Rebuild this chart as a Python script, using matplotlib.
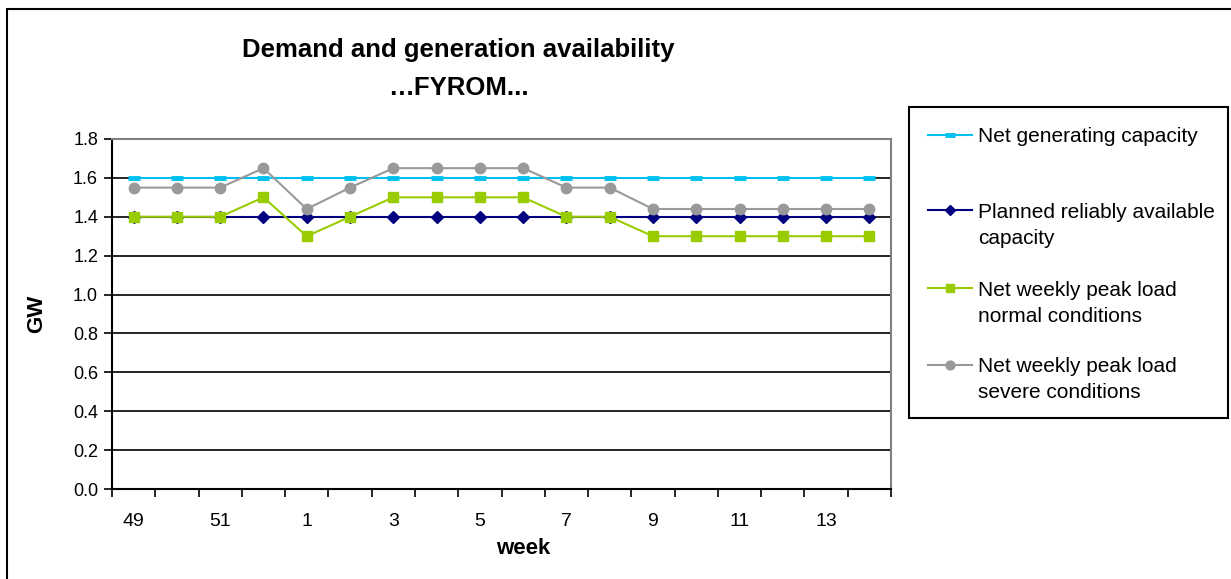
import matplotlib
matplotlib.use("Agg")
import matplotlib.pyplot as plt
from matplotlib.lines import Line2D
from matplotlib.patches import Rectangle

plt.rcParams['font.family'] = ['Liberation Sans', 'DejaVu Sans']

# data
weeks = [49, 50, 51, 52, 1, 2, 3, 4, 5, 6, 7, 8, 9, 10, 11, 12, 13, 14]
net_capacity = [1.6] * 18
reliable_capacity = [1.4] * 18
load_normal = [1.4, 1.4, 1.4, 1.5, 1.3, 1.4, 1.5, 1.5, 1.5, 1.5,
               1.4, 1.4, 1.3, 1.3, 1.3, 1.3, 1.3, 1.3]
load_severe = [1.55, 1.55, 1.55, 1.65, 1.44, 1.55, 1.65, 1.65, 1.65, 1.65,
               1.55, 1.55, 1.44, 1.44, 1.44, 1.44, 1.44, 1.44]
y_ticks = [0.0, 0.2, 0.4, 0.6, 0.8, 1.0, 1.2, 1.4, 1.6, 1.8]

series = [
    (net_capacity, "#00C0F0", dict(marker="_", markersize=9, markeredgewidth=3.5),
     ["Net generating capacity"]),
    (reliable_capacity, "#000080", dict(marker="D", markersize=6),
     ["Planned reliably available", "capacity"]),
    (load_normal, "#99CC00", dict(marker="s", markersize=7.5),
     ["Net weekly peak load", "normal conditions"]),
    (load_severe, "#999999", dict(marker="o", markersize=7.5),
     ["Net weekly peak load", "severe conditions"]),
]

W, H = 1231, 579


def fx(px):
    return px / W


def fy(py):
    return 1 - py / H


fig = plt.figure(figsize=(W / 100, H / 100), dpi=100)
fig.patches.append(Rectangle((fx(7), fy(600)), fx(1240), fy(9) - fy(600),
                             transform=fig.transFigure, fill=False,
                             edgecolor="black", linewidth=1.5))

ax = fig.add_axes([fx(112), fy(489), fx(891) - fx(112), fy(139) - fy(489)])
x = list(range(len(weeks)))
for vals, col, mk, _ in series:
    ax.plot(x, vals, color=col, linewidth=1.5, markerfacecolor=col,
            markeredgecolor=col, **mk)

ax.set_xlim(-0.5, len(weeks) - 0.5)
ax.set_ylim(0, 1.8)
ax.set_yticks(y_ticks)
ax.set_yticklabels([f"{v:.1f}" for v in y_ticks])
ax.set_xticks([i - 0.5 for i in range(len(weeks) + 1)])
ax.set_xticklabels([])
ax.set_xticks(x[::2], minor=True)
ax.set_xticklabels([str(w) for w in weeks[::2]], minor=True)
ax.tick_params(axis="x", which="minor", length=0, pad=17, labelsize=14)
ax.tick_params(axis="x", which="major", length=6, width=1.2, direction="out")
ax.tick_params(axis="y", length=6, width=1.2, direction="out", labelsize=13, pad=4)
ax.yaxis.grid(True, color="black", linewidth=1.2)
ax.set_axisbelow(True)
for s in ["left", "bottom"]:
    ax.spines[s].set_color("black")
    ax.spines[s].set_linewidth(1.5)
for s in ["top", "right"]:
    ax.spines[s].set_color("#808080")
    ax.spines[s].set_linewidth(1.5)

fig.text(fx(458), fy(50), "Demand and generation availability", ha="center",
         va="center", fontsize=18.5, fontweight="bold")
fig.text(fx(458), fy(88), "\u2026FYROM...", ha="center", va="center",
         fontsize=18.5, fontweight="bold")
fig.text(fx(37), fy(314), "GW", rotation=90, ha="center", va="center",
         fontsize=16, fontweight="bold")
fig.text(fx(523), fy(549), "week", ha="center", va="center",
         fontsize=16, fontweight="bold")

# legend box drawn by hand so the handle sits on the first text line
fig.patches.append(Rectangle((fx(909), fy(418)), fx(1228) - fx(909), fy(107) - fy(418),
                             transform=fig.transFigure, fill=False,
                             edgecolor="black", linewidth=1.5))
row_y = [135, 210, 288, 365]
for (vals, col, mk, lines), ry in zip(series, row_y):
    fig.lines.append(Line2D([fx(928), fx(972)], [fy(ry), fy(ry)],
                            transform=fig.transFigure, color=col, linewidth=1.5))
    fig.lines.append(Line2D([fx(950)], [fy(ry)], transform=fig.transFigure,
                            color=col, markerfacecolor=col, markeredgecolor=col,
                            **dict(mk, markersize=mk["markersize"] * 0.85)))
    for k, t in enumerate(lines):
        fig.text(fx(978), fy(ry + 26 * k), t, ha="left", va="center_baseline",
                 fontsize=15)

fig.savefig("out.png", dpi=100)
